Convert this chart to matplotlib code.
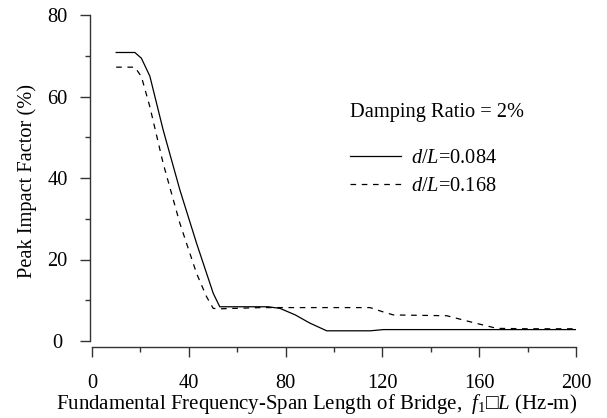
import numpy as np
import matplotlib
matplotlib.use("Agg")
import matplotlib.pyplot as plt

plt.rcParams['font.family'] = ['Liberation Serif', 'DejaVu Sans']
plt.rcParams['mathtext.fontset'] = 'custom'
plt.rcParams['mathtext.rm'] = 'Liberation Serif'
plt.rcParams['mathtext.it'] = 'Liberation Serif:italic'

# f1*L (Hz-m) vs peak impact factor (%)
x_084 = [10, 17.7, 20.4, 23.9, 29.4, 36.3, 43.2, 50.1, 52.8, 60, 72.8, 77.7,
         84, 90, 97, 105, 115, 120.4, 140, 170, 200]
y_084 = [70.8, 70.8, 69.4, 65.0, 51.8, 37.1, 24.0, 11.7, 8.4, 8.4, 8.4, 8.0,
         6.4, 4.4, 2.5, 2.5, 2.5, 2.8, 2.8, 2.8, 2.8]

x_168 = [10, 17.7, 20.4, 23.9, 29.4, 36.3, 43.2, 47.3, 50.1, 53, 70, 100,
         114.9, 120, 124.5, 135, 146.6, 157, 167.3, 180, 200]
y_168 = [67.2, 67.2, 64.9, 57.5, 43.6, 28.9, 16.6, 10.9, 8.0, 7.9, 8.2, 8.2,
         8.2, 7.2, 6.4, 6.3, 6.2, 4.6, 3.1, 3.0, 3.0]

FS = 14.7

fig = plt.figure(figsize=(6.07, 4.18), dpi=100)
ax = fig.add_axes([92 / 607, 77 / 418, 484 / 607, 326 / 418])

ax.plot(x_084, y_084, color='black', lw=0.9, label=r'$d/L$=0.084')
ax.plot(x_168, y_168, color='black', lw=0.9, dashes=(4.5, 4.5),
        label=r'$d/L$=0.168')

ax.set_xlim(0, 200)
ax.set_ylim(0, 80)
ax.set_xticks(np.arange(0, 201, 40))
ax.set_xticks(np.arange(20, 200, 40), minor=True)
ax.set_yticks(np.arange(0, 81, 20))
ax.set_yticks(np.arange(10, 80, 20), minor=True)

for s in ['top', 'right']:
    ax.spines[s].set_visible(False)
ax.spines['left'].set_position(('outward', 1.5))
ax.spines['bottom'].set_position(('outward', 4.3))
ax.spines['left'].set_bounds(0, 80)
ax.spines['bottom'].set_bounds(0, 200)
for s in ['left', 'bottom']:
    ax.spines[s].set_color('#333333')
    ax.spines[s].set_linewidth(1.0)

ax.tick_params(axis='both', which='major', length=7.2, width=1.0,
               color='#333333', labelsize=FS)
ax.tick_params(axis='both', which='minor', length=3.6, width=1.0,
               color='#333333')
ax.tick_params(axis='y', which='major', pad=16)
ax.tick_params(axis='x', which='major', pad=12)
for lab in ax.get_yticklabels():
    lab.set_horizontalalignment('center')

ax.set_ylabel('Peak Impact Factor (%)', fontsize=FS)
ax.yaxis.set_label_coords(-0.113, 0.49)
ax.set_xlabel('Fundamental Frequency-Span Length of Bridge,  $f_1$\u25A1$L$ (Hz-m)',
              fontsize=15)
ax.xaxis.set_label_coords(0.464, -0.155)

leg = ax.legend(title='Damping Ratio = 2%', loc='upper left',
                bbox_to_anchor=(0.512, 0.76), frameon=False, fontsize=FS,
                title_fontsize=FS, alignment='left', handlelength=2.5,
                handletextpad=0.5, labelspacing=0.42, borderpad=0)
leg._legend_box.sep = 19

fig.savefig('out.png', dpi=100)
